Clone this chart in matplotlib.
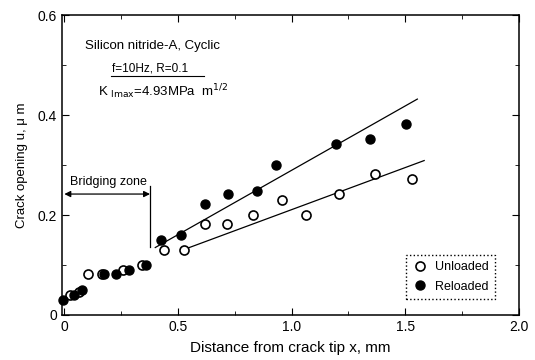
import matplotlib.pyplot as plt
from matplotlib.ticker import MultipleLocator

plt.rcParams['font.family'] = ['Liberation Sans', 'DejaVu Sans']

# unloaded (open circles)
unl_x = [0.026, 0.066, 0.102, 0.165, 0.26, 0.343, 0.439, 0.526, 0.618, 0.714,
         0.83, 0.959, 1.061, 1.207, 1.368, 1.529]
unl_y = [0.040, 0.047, 0.082, 0.082, 0.090, 0.100, 0.130, 0.131, 0.183, 0.183,
         0.200, 0.231, 0.200, 0.242, 0.283, 0.273]

# reloaded (filled circles)
rel_x = [-0.005, 0.041, 0.078, 0.175, 0.227, 0.285, 0.358, 0.424, 0.512, 0.621,
         0.72, 0.848, 0.93, 1.193, 1.345, 1.503]
rel_y = [0.030, 0.040, 0.050, 0.082, 0.082, 0.090, 0.100, 0.150, 0.160, 0.223,
         0.243, 0.249, 0.300, 0.342, 0.353, 0.382]

# fitted lines (end points)
rel_fit_x = [0.40, 1.553]
rel_fit_y = [0.135, 0.432]
unl_fit_x = [0.544, 1.583]
unl_fit_y = [0.134, 0.309]

fig = plt.figure(figsize=(5.35, 3.6), dpi=100)
ax = fig.add_axes([0.116, 0.125, 0.854, 0.833])

ax.plot(rel_fit_x, rel_fit_y, color='black', lw=0.9)
ax.plot(unl_fit_x, unl_fit_y, color='black', lw=0.9)

ax.plot(unl_x, unl_y, 'o', mfc='white', mec='black', mew=1.2, ms=6.5,
        label='Unloaded', clip_on=False)
ax.plot(rel_x, rel_y, 'o', mfc='black', mec='black', ms=6.5,
        label='Reloaded', clip_on=False)

ax.set_xlim(-0.01, 2.0)
ax.set_ylim(0, 0.6)
ax.xaxis.set_major_locator(MultipleLocator(0.5))
ax.xaxis.set_minor_locator(MultipleLocator(0.25))
ax.yaxis.set_major_locator(MultipleLocator(0.2))
ax.yaxis.set_minor_locator(MultipleLocator(0.1))
ax.set_xticks([0, 0.5, 1.0, 1.5, 2.0])
ax.set_xticklabels(['0', '0.5', '1.0', '1.5', '2.0'])
ax.set_yticks([0, 0.2, 0.4, 0.6])
ax.set_yticklabels(['0', '0.2', '0.4', '0.6'])
ax.tick_params(which='both', direction='in', top=True, right=True, labelsize=10)
ax.tick_params(which='major', length=5)
ax.tick_params(which='minor', length=3)
for s in ax.spines.values():
    s.set_linewidth(1.1)

ax.set_xlabel('Distance from crack tip x, mm', fontsize=11, labelpad=5)
ax.set_ylabel('Crack opening u, \u03bc m', fontsize=9.5, labelpad=7)

# bridging zone
ax.plot([0.377, 0.377], [0.137, 0.258], color='black', lw=0.9)
ax.annotate('', xy=(0.0, 0.242), xytext=(0.377, 0.242),
            arrowprops=dict(arrowstyle='<|-|>', color='black', lw=0.9,
                            mutation_scale=9, shrinkA=0, shrinkB=0))
ax.text(0.026, 0.255, 'Bridging zone', fontsize=9, va='bottom')

# test conditions
ax.text(0.09, 0.538, 'Silicon nitride-A, Cyclic', fontsize=9.5, va='center')
ax.text(0.21, 0.493, 'f=10Hz, R=0.1', fontsize=8.5, va='center')
ax.plot([0.205, 0.615], [0.478, 0.478], color='black', lw=0.8)
ax.text(0.147, 0.447, 'K $_{\\rm Imax}$=4.93MPa  m$^{1/2}$', fontsize=9.5,
        va='center')

leg = ax.legend(loc='lower left', bbox_to_anchor=(0.753, 0.053),
                borderaxespad=0, fontsize=9, fancybox=False, framealpha=1,
                edgecolor='black', handletextpad=0.6, borderpad=0.5,
                labelspacing=0.6, handlelength=1.2)
leg.get_frame().set_linestyle(':')
leg.get_frame().set_linewidth(1.0)

fig.savefig('out.png', dpi=100)
